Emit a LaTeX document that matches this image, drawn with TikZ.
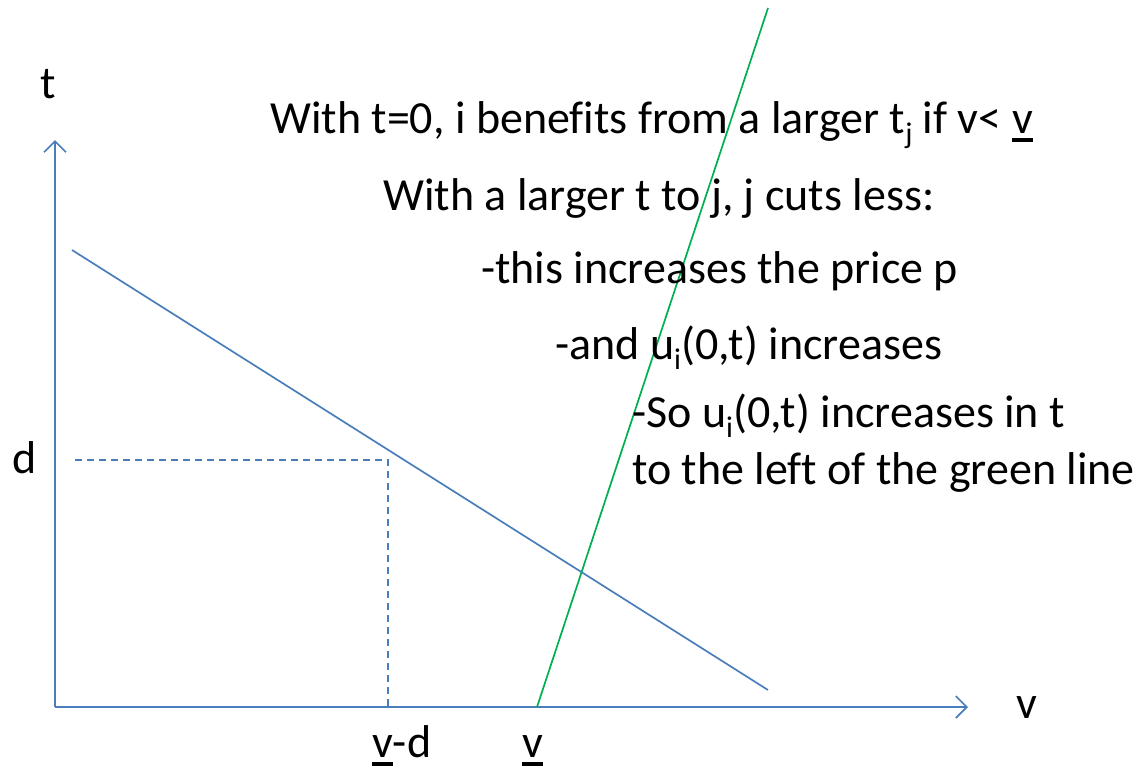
\documentclass[tikz,border=0pt]{standalone}
\usepackage{fontspec}
\setmainfont{Carlito}[Ligatures=NoCommon]
\usetikzlibrary{arrows.meta}
\definecolor{axblue}{HTML}{4A7EBB}
\definecolor{grn}{HTML}{00B050}
\newcommand{\mysub}[1]{\raisebox{-0.22em}{\fontsize{30}{30}\selectfont #1}}
\newcommand{\myul}[1]{\setbox0\hbox{#1}\rlap{\rule[-9pt]{\wd0}{4pt}}\box0}
\tikzset{
  ln/.style={draw=axblue, line width=1.7pt},
  ax/.style={ln, -{Straight Barb[length=11pt,width=22pt,line width=1.7pt]}},
  dsh/.style={draw=axblue, line width=1.7pt, dash pattern=on 7pt off 5pt},
  gl/.style={draw=grn, line width=1.7pt},
  txt/.style={anchor=base west, inner sep=0pt, font=\fontsize{46}{52}\selectfont},
}
\begin{document}
\begin{tikzpicture}[x=1pt,y=-1pt]
\useasboundingbox (0,0) rectangle (1144,769);
\coordinate (O) at (55,707);
\coordinate (ytop) at (55,140);
\coordinate (xend) at (968,707);
\coordinate (b1) at (72,250);
\coordinate (b2) at (768,690);
\coordinate (dl) at (75,460);
\coordinate (dc) at (388,460);
\coordinate (db) at (388,707);
\coordinate (g1) at (537,707);
\coordinate (g2) at (768,8);
\draw[ax] (O) -- (ytop);
\draw[ax] (O) -- (xend);
\draw[ln] (b1) -- (b2);
\draw[dsh] (dl) -- (dc) -- (db);
\draw[gl] (g1) -- (g2);
\node[txt] (tl) at (40,98) {t};
\node[txt] (dlab) at (12,473) {d};
\node[txt] (vlab) at (1016,718) {v};
\node[txt] (vd) at (372,757) {\myul{v}-d};
\node[txt] (vu) at (522,757) {\myul{v}};
\node[txt] (l1) at (270,133) {With t=0, i benefits from a larger t\mysub{j} if v< \myul{v}};
\node[txt] (l2) at (383,210) {With a larger t to j, j cuts less:};
\node[txt] (l3) at (481,283) {-this increases the price p};
\node[txt] (l4) at (555,359) {-and u\mysub{i}(0,t) increases};
\node[txt] (l5) at (632,427) {-So u\mysub{i}(0,t) increases in t};
\node[txt] (l6) at (632,484) {to the left of the green line};
\end{tikzpicture}
\end{document}
